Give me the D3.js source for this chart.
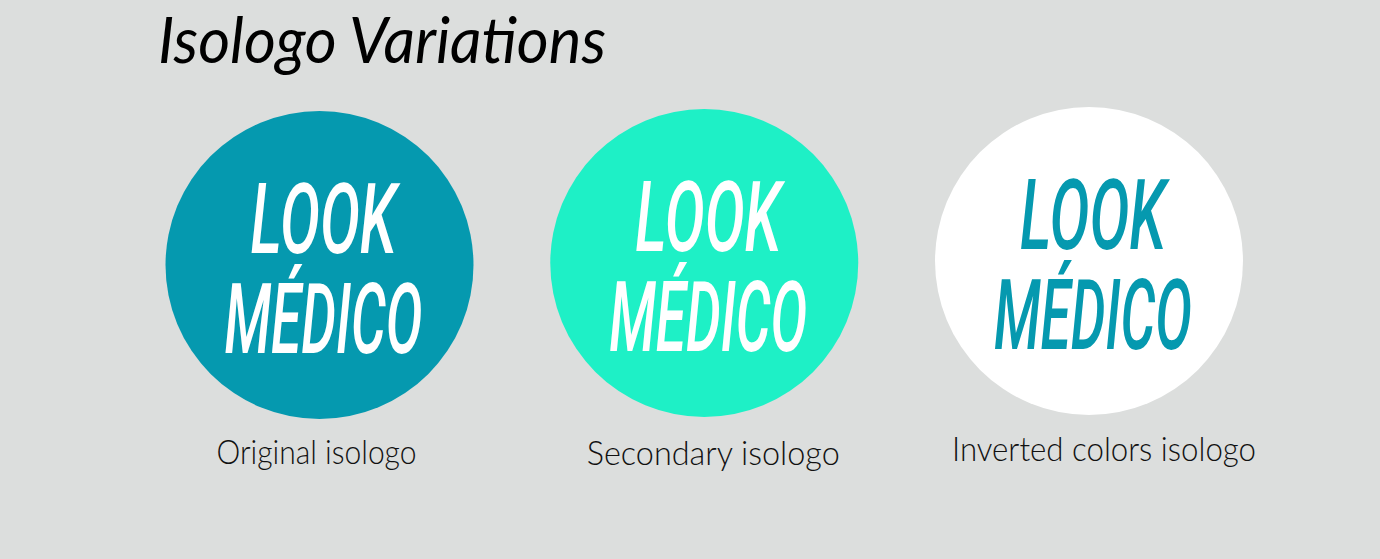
<!DOCTYPE html>
<html>
<head>
<meta charset="utf-8">
<script src="https://cdn.jsdelivr.net/npm/d3@7"></script>
<style>
  html, body { margin: 0; padding: 0; background: #dcdedd; }
</style>
</head>
<body>
<div id="sheet"></div>
<script>
// logo variations
var variants = ["original", "secondary", "inverted"];
var fillColors = ["#0599af", "#1ef0c6", "#ffffff"];
var textColors = ["#ffffff", "#ffffff", "#0599af"];
var captions = ["Original isologo", "Secondary isologo", "Inverted colors isologo"];
var wordLines = ["LOOK", "MÉDICO"];
var title = "Isologo Variations";

var W = 1380, H = 559;
var R = 154;
var captionDx = [-3, 9, 15];     // captions are not exactly under the circles
var circleDy = [3, 1, -1];

var svg = d3.select("#sheet").append("svg")
    .attr("width", W)
    .attr("height", H);

svg.append("rect")
    .attr("width", W).attr("height", H)
    .attr("fill", "#dcdedd");

// title
svg.append("text")
    .attr("x", 158).attr("y", 63)
    .attr("textLength", 448)
    .attr("lengthAdjust", "spacingAndGlyphs")
    .style("font-family", "Lato, 'Open Sans', sans-serif")
    .style("font-style", "italic")
    .style("font-weight", 400)
    .style("font-size", "64px")
    .style("fill", "#000")
    .text(title);

var x = d3.scalePoint()
    .domain(variants)
    .range([319.5, 1089]);

var logo = svg.selectAll("g.logo")
    .data(variants)
    .enter().append("g")
    .classed("logo", true)
    .attr("transform", function(d, i) { return "translate(" + x(d) + "," + (262 + circleDy[i]) + ")"; });

logo.append("circle")
    .attr("r", R)
    .attr("fill", function(d, i) { return fillColors[i]; });

// wordmark, two lines in one text block
var lineY = [-12, 88], lineX = [4, 4], lineW = [146, 198];
var mark = logo.append("text")
    .attr("text-anchor", "middle")
    .style("font-family", "Roboto, 'DejaVu Sans Condensed', sans-serif")
    .style("font-style", "italic")
    .style("font-weight", 500)
    .style("font-size", "98px")
    .style("fill", function(d, i) { return textColors[i]; });

mark.selectAll("tspan")
    .data(wordLines)
    .enter().append("tspan")
    .attr("x", function(d, j) { return lineX[j]; })
    .attr("y", function(d, j) { return lineY[j]; })
    .attr("textLength", function(d, j) { return lineW[j]; })
    .attr("lengthAdjust", "spacingAndGlyphs")
    .text(function(d) { return d; });

// captions
svg.selectAll("text.caption")
    .data(captions)
    .enter().append("text")
    .classed("caption", true)
    .attr("x", function(d, i) { return x(variants[i]) + captionDx[i]; })
    .attr("y", function(d, i) { return [464, 465, 461][i]; })
    .attr("text-anchor", "middle")
    .attr("textLength", function(d, i) { return [200, 253, 304][i]; })
    .attr("lengthAdjust", "spacingAndGlyphs")
    .style("font-family", "Lato, 'Open Sans', sans-serif")
    .style("font-weight", 300)
    .style("font-size", "33px")
    .style("fill", "#111")
    .text(function(d) { return d; });
</script>
</body>
</html>
